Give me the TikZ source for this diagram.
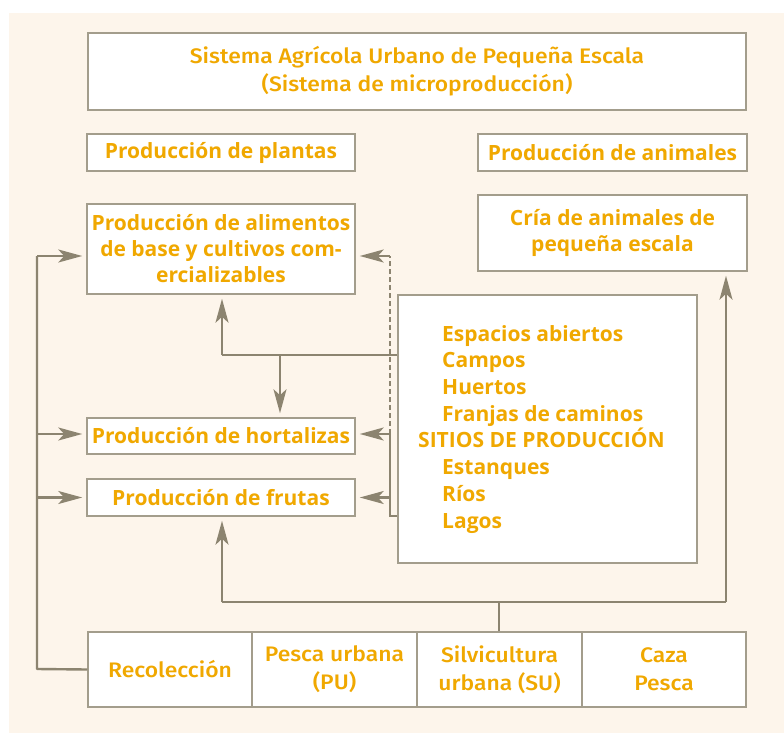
\documentclass[tikz,border=0pt]{standalone}
\usepackage{fontspec}
\setmainfont{Open Sans}
\newfontfamily\condfont[FakeStretch=1.09]{Fira Sans Medium}
\usetikzlibrary{arrows.meta}
\definecolor{bg}{HTML}{FDF5EB}
\definecolor{txt}{HTML}{F0A800}
\definecolor{ln}{HTML}{8C8470}
\definecolor{bd}{HTML}{A39D8C}
\tikzset{
  box/.style={draw=bd, line width=1.5pt, fill=white, inner sep=0pt, text=txt, align=center, font=\bfseries\fontsize{21}{26}\selectfont},
  cbox/.style={box, font=\condfont\fontsize{21}{28}\selectfont},
  conn/.style={draw=ln, line width=2.4pt},
  arr/.style={conn, shorten >=4pt, -{Stealth[length=24pt,width=13pt,inset=6pt]}},
  dconn/.style={draw=ln, line width=2.2pt, dash pattern=on 5pt off 3pt},
}
\begin{document}
\begin{tikzpicture}[x=1pt,y=-1pt]
\useasboundingbox (0,0) rectangle (784,733);
\fill[bg] (9,13) rectangle (784,733);
% boxes
\node[cbox, minimum width=658pt, minimum height=77pt] (title) at (417,71.5) {Sistema Agrícola Urbano de Pequeña Escala\\(Sistema de microproducción)};
\node[box, minimum width=268pt, minimum height=37pt] (plantas) at (221,152.5) {Producción de plantas};
\node[box, minimum width=269pt, minimum height=37pt] (animales) at (612.5,152.5) {Producción de animales};
\node[box, minimum width=268pt, minimum height=90pt] (alim) at (221,249) {Producción de alimentos\\de base y cultivos com-\\ercializables};
\node[box, minimum width=269pt, minimum height=76pt] (cria) at (612.5,233) {Cría de animales de\\pequeña escala};
\node[box, minimum width=299pt, minimum height=268pt] (sitios) at (547.5,429) {};
\node[box, minimum width=268pt, minimum height=36pt] (hort) at (221,436) {Producción de hortalizas};
\node[box, minimum width=268pt, minimum height=37pt] (frut) at (221,497.5) {Producción de frutas};
\node[cbox, minimum width=164pt, minimum height=75pt] (reco) at (170,669.5) {Recolección};
\node[cbox, minimum width=165pt, minimum height=75pt] (pesca) at (334.5,669.5) {Pesca urbana\\(PU)};
\node[cbox, minimum width=165pt, minimum height=75pt] (silvi) at (499.5,669.5) {Silvicultura\\urbana (SU)};
\node[cbox, minimum width=164pt, minimum height=75pt] (caza) at (664,669.5) {Caza\\Pesca};
% sitios text
\node[anchor=north west, inner sep=0pt, text=txt, align=left, font=\bfseries\fontsize{21}{26.7}\selectfont] (sitiostxt) at (418,325)
{\hspace*{24pt}Espacios abiertos\\
\hspace*{24pt}Campos\\
\hspace*{24pt}Huertos\\
\hspace*{24pt}Franjas de caminos\\
SITIOS DE PRODUCCIÓN\\
\hspace*{24pt}Estanques\\
\hspace*{24pt}Ríos\\
\hspace*{24pt}Lagos};
% coordinates
\coordinate (l1) at (37,669);
\coordinate (l2) at (37,256);
\coordinate (l3) at (37,434);
\coordinate (l4) at (37,497.5);
\coordinate (b1) at (499,602);
\coordinate (b2) at (222,602);
\coordinate (b3) at (726,602);
\coordinate (s1) at (222,355);
\coordinate (s2) at (280,355);
\coordinate (r1) at (390,516);
\coordinate (r2) at (390,434);
\coordinate (r3) at (390,497.5);
\coordinate (r4) at (390,256);
% left bus
\draw[conn, line join=round] (reco.west) -- (l1) -- (l2);
\draw[arr] (l2) -- (alim.west |- l2);
\draw[arr] (l3) -- (hort.west |- l3);
\draw[arr] (l4) -- (frut.west |- l4);
% bottom bus
\draw[conn] (silvi.north -| b1) -- (b1);
\draw[conn] (b2) -- (b3);
\draw[arr] (b2) -- (frut.south -| b2);
\draw[arr] (b3) -- (cria.south -| b3);
% sitios to alimentos / hortalizas
\draw[conn] (sitios.west |- s1) -- (s1);
\draw[arr] (s1) -- (alim.south -| s1);
\draw[arr] (s2) -- (hort.north -| s2);
% right bus
\draw[conn] (sitios.west |- r1) -- (r1) -- (r2);
\draw[arr] (r2) -- (hort.east |- r2);
\draw[arr] (r3) -- (frut.east |- r3);
\draw[dconn] (r2) -- (r4);
\draw[arr] (r4) -- (alim.east |- r4);
\end{tikzpicture}
\end{document}
